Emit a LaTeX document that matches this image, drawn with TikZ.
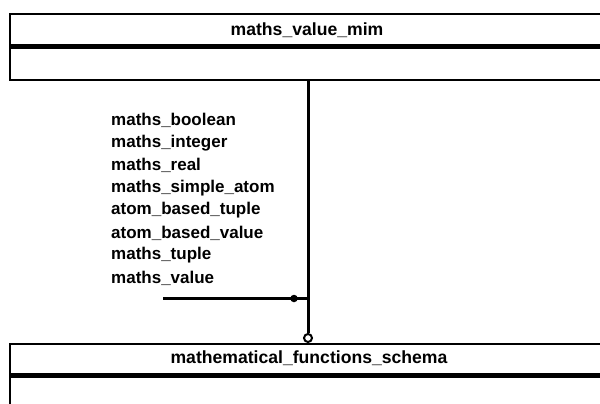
\documentclass[tikz,border=0pt]{standalone}
\usepackage{fontspec}
\setmainfont{Liberation Sans}
\begin{document}
\begin{tikzpicture}[x=1pt,y=-1pt,
  frame/.style={draw,line width=2.4pt,anchor=north west,inner sep=0pt},
  sepline/.style={line width=5pt},
  title/.style={font=\bfseries\fontsize{17.6}{19}\selectfont,inner sep=0pt},
  item/.style={font=\bfseries\fontsize{17}{19}\selectfont,anchor=west,inner sep=0pt},
  link/.style={line width=3pt}]
\useasboundingbox (0,0) rectangle (600,404);
\clip (0,0) rectangle (600,404);
% schema boxes
\node[frame,minimum width=610pt,minimum height=66pt] (mim) at (9,13) {};
\draw[sepline] (9,47) -- (620,47);
\node[title] (mimname) at (307,30) {maths\_value\_mim};
\node[frame,minimum width=610pt,minimum height=80pt] (mfs) at (9,343) {};
\draw[sepline] (9,375) -- (620,375);
\node[title] (mfsname) at (309,358) {mathematical\_functions\_schema};
% referenced types
\node[item] (t1) at (111,120) {maths\_boolean};
\node[item] (t2) at (111,143) {maths\_integer};
\node[item] (t3) at (111,165) {maths\_real};
\node[item] (t4) at (111,188) {maths\_simple\_atom};
\node[item] (t5) at (111,210) {atom\_based\_tuple};
\node[item] (t6) at (111,233) {atom\_based\_value};
\node[item] (t7) at (111,255) {maths\_tuple};
\node[item] (t8) at (111,278) {maths\_value};
% reference connector
\coordinate (top) at (308,80);
\coordinate (jn) at (308,298);
\coordinate (start) at (163,298);
\node[draw,circle,line width=2pt,minimum size=8pt,inner sep=0pt,fill=white] (ring) at (308,338) {};
\draw[link] (top) -- (ring.north);
\draw[link] (start) -- (jn);
\node[fill,circle,minimum size=7.5pt,inner sep=0pt] (dot) at (294,298.5) {};
\end{tikzpicture}
\end{document}
